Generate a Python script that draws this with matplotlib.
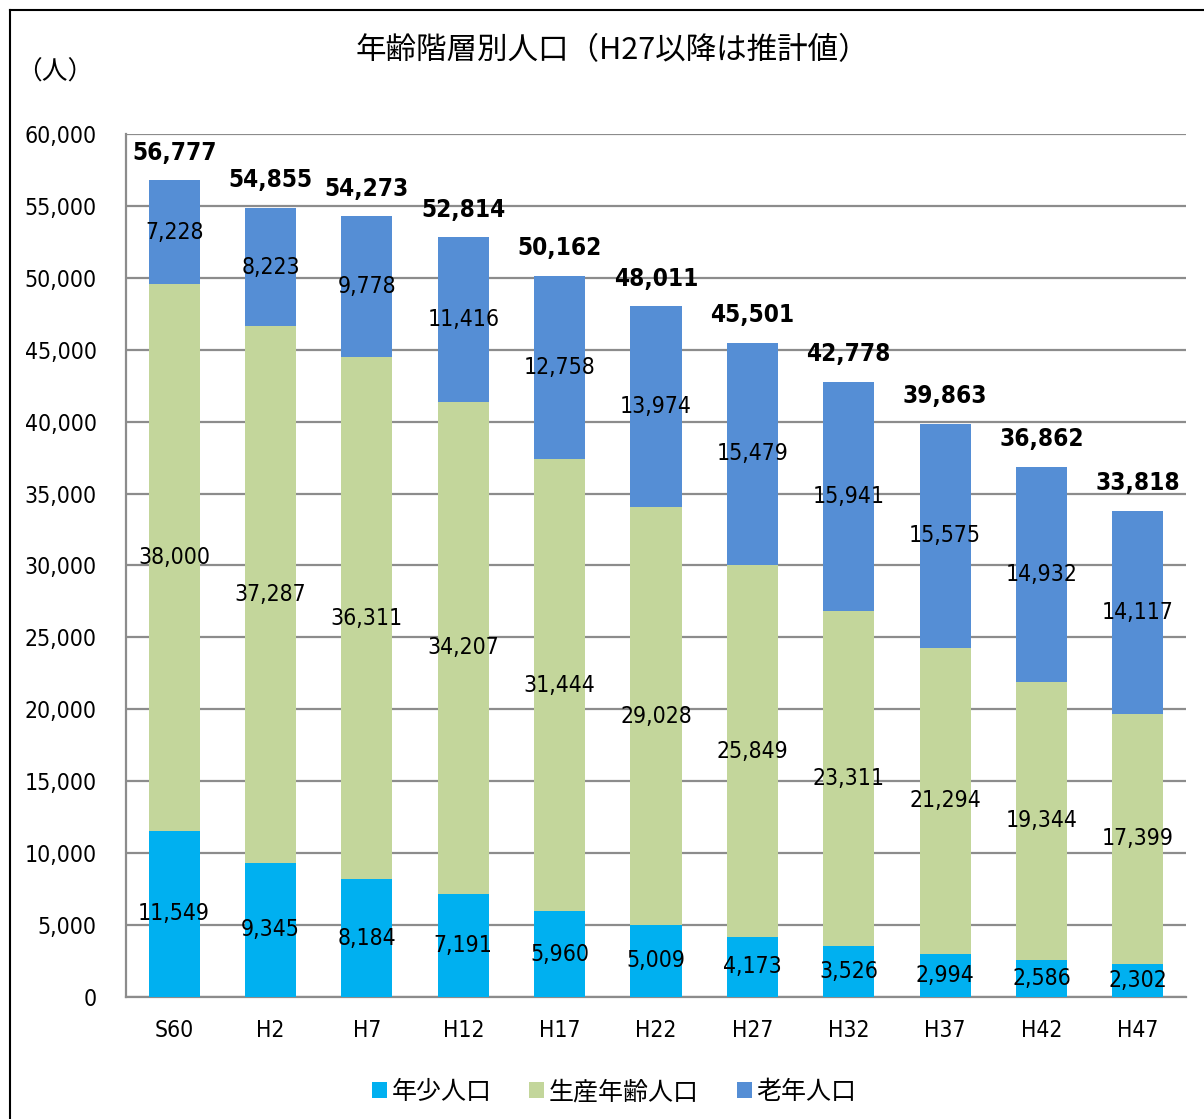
import matplotlib
matplotlib.use("Agg")
import matplotlib.pyplot as plt
from matplotlib.lines import Line2D
import numpy as np

categories = ["S60", "H2", "H7", "H12", "H17", "H22", "H27", "H32", "H37", "H42", "H47"]
young = [11549, 9345, 8184, 7191, 5960, 5009, 4173, 3526, 2994, 2586, 2302]
working = [38000, 37287, 36311, 34207, 31444, 29028, 25849, 23311, 21294, 19344, 17399]
old = [7228, 8223, 9778, 11416, 12758, 13974, 15479, 15941, 15575, 14932, 14117]
totals = [56777, 54855, 54273, 52814, 50162, 48011, 45501, 42778, 39863, 36862, 33818]
series_names = ["年少人口", "生産年齢人口", "老年人口"]
yticks = [0, 5000, 10000, 15000, 20000, 25000, 30000, 35000, 40000, 45000, 50000, 55000, 60000]
title = "年齢階層別人口（H27以降は推計値）"
unit = "（人）"

colors = ["#00B0F0", "#C3D69B", "#558ED5"]
NUM = ["DejaVu Sans"]
CJK = ["Noto Sans CJK JP", "DejaVu Sans"]

fig = plt.figure(figsize=(12.04, 11.19), dpi=100)
ax = fig.add_axes([126/1204, 1-997/1119, 1060/1204, 863/1119])

x = np.arange(len(categories))
w = 0.53
y0 = np.array(young)
y1 = np.array(working)
y2 = np.array(old)
b0 = ax.bar(x, y0, w, color=colors[0], label=series_names[0], zorder=3)
b1 = ax.bar(x, y1, w, bottom=y0, color=colors[1], label=series_names[1], zorder=3)
b2 = ax.bar(x, y2, w, bottom=y0 + y1, color=colors[2], label=series_names[2], zorder=3)

for bars, vals, bots in [(b0, y0, np.zeros_like(y0)), (b1, y1, y0), (b2, y2, y0 + y1)]:
    for xi, v, b in zip(x, vals, bots):
        ax.text(xi, b + v / 2, f"{v:,}", ha="center", va="center",
                fontsize=16.5, family=NUM, fontstretch="condensed", color="black", zorder=5)

for xi, t in zip(x, totals):
    ax.annotate(f"{t:,}", (xi, t), xytext=(0, 20), textcoords="offset points",
                ha="center", va="center", fontsize=17.5, fontweight="bold",
                family=NUM, fontstretch="condensed", color="black", zorder=5)

ax.set_xlim(-0.5, len(categories) - 0.5)
ax.set_ylim(0, 60000)
ax.set_yticks(yticks)
ax.set_yticklabels([f"{v:,}" for v in yticks], family=NUM, fontsize=16.5, fontstretch="condensed")
ax.set_xticks(x)
ax.set_xticklabels(categories, family=NUM, fontsize=16.5, fontstretch="condensed")
ax.tick_params(axis="both", length=0)
ax.tick_params(axis="y", pad=21)
ax.tick_params(axis="x", pad=16)
ax.yaxis.grid(True, color="#8C8C8C", linewidth=1.6, zorder=0)
ax.set_axisbelow(True)
for s in ["top", "right"]:
    ax.spines[s].set_visible(False)
for s in ["left", "bottom"]:
    ax.spines[s].set_color("#8C8C8C")
    ax.spines[s].set_linewidth(1.6)

fig.text(612/1204, 1-51/1119, title, ha="center", va="center", fontsize=22, family=CJK)
fig.text(55/1204, 1-73/1119, unit, ha="center", va="center", fontsize=18.5, family=CJK)

leg = fig.legend(handles=[b0, b1, b2], labels=series_names, loc="center",
                 bbox_to_anchor=(614/1204, 1-1092/1119), ncol=3, frameon=False,
                 prop={"family": CJK, "size": 18}, handlelength=0.6, handleheight=0.6,
                 handletextpad=0.2, columnspacing=1.5)

fig.add_artist(Line2D([10/1204, 10/1204], [0, 1-10/1119], color="black", linewidth=1.5, transform=fig.transFigure))
fig.add_artist(Line2D([10/1204, 1], [1-10/1119, 1-10/1119], color="black", linewidth=1.5, transform=fig.transFigure))

fig.savefig("out.png", dpi=100)
